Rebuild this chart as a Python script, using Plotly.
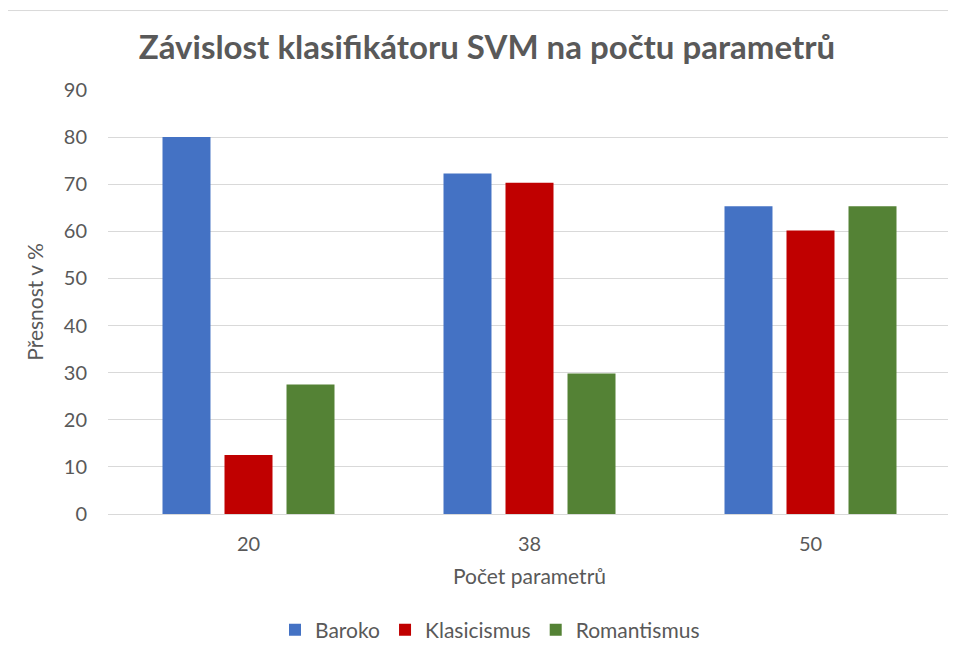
import plotly.graph_objects as go

categories = ["20", "38", "50"]
series_names = ["Baroko", "Klasicismus", "Romantismus"]
baroko = [80.0, 72.3, 65.3]
klasicismus = [12.5, 70.3, 60.2]
romantismus = [27.5, 29.8, 65.3]
colors = ["#4472C4", "#C00000", "#548235"]
y_ticks = [0, 10, 20, 30, 40, 50, 60, 70, 80, 90]

font_family = "Lato, 'Open Sans', sans-serif"
gray = "#595959"

# page is drawn with an 8px body margin offset
L, T, B_EDGE, R_EDGE = 100, 82, 509, 943
W, H = 956, 655
plot_w = R_EDGE - L
plot_h = B_EDGE - T

fig = go.Figure()
for name, vals, col in zip(series_names, [baroko, klasicismus, romantismus], colors):
    fig.add_trace(go.Bar(name=name, x=categories, y=vals, marker=dict(color=col, line=dict(width=0))))

fig.update_layout(
    width=W, height=H,
    margin=dict(l=L, r=W - R_EDGE, t=T, b=H - B_EDGE),
    paper_bgcolor="white", plot_bgcolor="white",
    barmode="group", bargap=0.338, bargroupgap=0.226,
    title=dict(text="<b>Závislost klasifikátoru SVM na počtu parametrů</b>",
               x=(487 - 8 - L) / plot_w, xref="paper", xanchor="center",
               y=1 - 39 / H, yanchor="middle",
               font=dict(family=font_family, size=33, color=gray)),
    font=dict(family=font_family, size=20, color=gray),
    legend=dict(orientation="h", x=(490 - 8 - L) / plot_w, xanchor="center",
                y=-(626 - B_EDGE) / plot_h, yanchor="middle",
                font=dict(size=21, color=gray), itemwidth=30, traceorder="normal"),
    showlegend=True,
)
fig.update_xaxes(type="category", showgrid=False, showline=True, linecolor="#D9D9D9", linewidth=1,
                 ticks="", ticklabelstandoff=12, tickfont=dict(size=20, color=gray),
                 title=dict(text="Počet parametrů", font=dict(size=21, color=gray), standoff=15))
fig.update_yaxes(range=[0, 90], tickvals=y_ticks, showgrid=True, gridcolor="#D9D9D9", gridwidth=1,
                 zeroline=False, showline=False, ticks="", ticklabelstandoff=20,
                 tickfont=dict(size=20, color=gray),
                 title=dict(text="Přesnost v %", font=dict(size=21, color=gray), standoff=14))

fig.add_shape(type="rect", xref="paper", yref="paper",
              x0=(-4 - L) / plot_w, x1=(1000 - L) / plot_w,
              y0=(B_EDGE - 700) / plot_h, y1=(B_EDGE - 2) / plot_h,
              line=dict(color="#D9D9D9", width=1), fillcolor="rgba(0,0,0,0)", layer="below")

fig.write_html("out.html")
